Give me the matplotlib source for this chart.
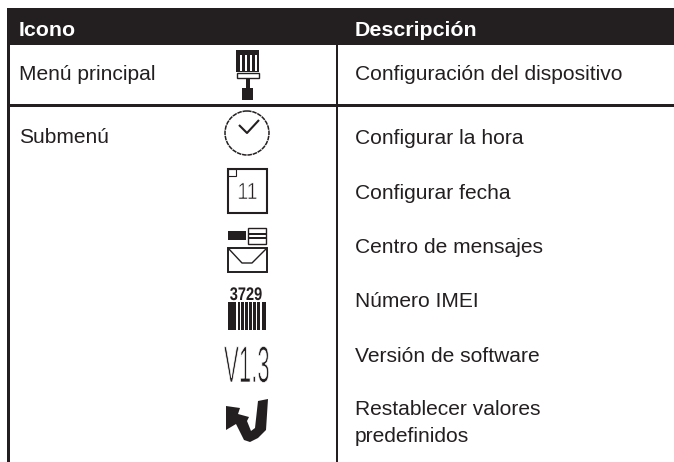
import matplotlib
matplotlib.use("Agg")
import matplotlib.pyplot as plt
import matplotlib.patheffects as pe
from matplotlib.patches import Rectangle, Polygon, Circle
from matplotlib.transforms import Affine2D

W, H = 674, 462
INK = "#231f20"

headers = ["Icono", "Descripción"]
left_labels = ["Menú principal", "Submenú"]
left_y = [80, 143]
right_labels = ["Configuración del dispositivo", "Configurar la hora", "Configurar fecha",
                "Centro de mensajes", "Número IMEI", "Versión de software",
                "Restablecer valores", "predefinidos"]
right_y = [80, 144, 199, 253, 307, 362, 415, 442]
barcode_gaps = [236, 239.5, 243.5, 247.5, 251.5, 255.5, 260]
handle_slits = [240, 245, 250, 255]


class StretchY(pe.AbstractPathEffect):
    # text can't be stretched directly, scale the glyph paths at draw time
    # thin > 0 eats into the glyph with a white edge, the icon fonts are hairline
    def __init__(self, sy, thin=0):
        super().__init__()
        self.sy = sy
        self.thin = thin

    def draw_path(self, renderer, gc, tpath, affine, rgbFace=None):
        gc0 = renderer.new_gc()
        gc0.copy_properties(gc)
        if self.thin:
            gc0.set_foreground("white")
            gc0.set_linewidth(self.thin)
        renderer.draw_path(gc0, tpath, Affine2D().scale(1, self.sy) + affine, rgbFace)
        gc0.restore()


plt.rcParams["font.family"] = ["Liberation Sans", "DejaVu Sans"]
fig = plt.figure(figsize=(W / 100, H / 100), dpi=100)
ax = fig.add_axes([0, 0, 1, 1])
ax.set_xlim(0, W)
ax.set_ylim(H, 0)
ax.axis("off")


def rect(x0, y0, x1, y1, **kw):
    kw.setdefault("fc", INK)
    kw.setdefault("ec", "none")
    ax.add_patch(Rectangle((x0, y0), x1 - x0, y1 - y0, **kw))


def line(xs, ys, lw=1.0):
    ax.plot(xs, ys, color=INK, lw=lw, solid_capstyle="butt")


# table frame
rect(7, 8, 674, 45)
rect(7, 45, 9.5, 462)
rect(335.7, 45, 338.2, 462)
rect(7, 104, 674, 106.7)

ax.text(19, 36, headers[0], color="white", fontsize=15.4, fontweight="bold")
ax.text(355, 36, headers[1], color="white", fontsize=15.4, fontweight="bold")
for s, y in zip(left_labels, left_y):
    ax.text(19, y, s, color=INK, fontsize=15.1)
for s, y in zip(right_labels, right_y):
    ax.text(355, y, s, color=INK, fontsize=15.1)

# screwdriver
rect(236, 50, 259, 72)
for x in handle_slits:
    rect(x, 55, x + 1.6, 71, fc="white")
rect(236.5, 72.5, 258.5, 78, fc="white", ec=INK, lw=1)
rect(246, 78, 250, 88)
rect(242, 88, 253, 100)

# clock
ax.add_patch(Circle((247, 133), 22, fc="none", ec=INK, lw=1.1, ls=(0, (3, 0.5))))
line([239, 247, 259], [125, 133, 120], lw=1.5)

# calendar
rect(227.5, 168.5, 267, 213, fc="none", ec=INK, lw=1.5)
rect(227.5, 168.5, 236, 176, fc="none", ec=INK, lw=0.8)
t = ax.text(247.5, 199, "11", color=INK, fontsize=14, ha="center")
t.set_path_effects([StretchY(1.2, thin=0.4)])

# message centre: small screwdriver on top of an envelope
rect(228, 231, 246, 240)
rect(247.5, 228, 266, 243.5, fc="white", ec=INK, lw=1)
rect(247.5, 233, 266, 235)
rect(247.5, 237, 266, 239)
rect(227.5, 247.5, 267, 272, fc="none", ec=INK, lw=1.4)
line([228, 242, 252, 267], [248, 263, 263, 248], lw=1)

# barcode
t = ax.text(246, 300, "3729", color=INK, fontsize=10.5, fontweight="bold", ha="center")
t.set_path_effects([StretchY(1.25)])
rect(228, 302, 266, 330)
for x in barcode_gaps:
    rect(x, 302, x + 1.5, 330, fc="white")

# version, thin and tall
t = ax.text(224, 382, "V1.3", color=INK, fontsize=16)
t.set_path_effects([StretchY(2.3, thin=0.5)])

# restore arrow
ax.add_patch(Polygon([(226, 406), (240, 408), (238, 414), (249, 417), (247, 421),
                      (251, 431), (255, 428), (258, 401), (268, 399), (266, 430),
                      (258, 438), (250, 442), (244, 440), (236, 424), (226, 430)],
                     fc=INK, ec="none"))

fig.savefig("out.png", dpi=100)
